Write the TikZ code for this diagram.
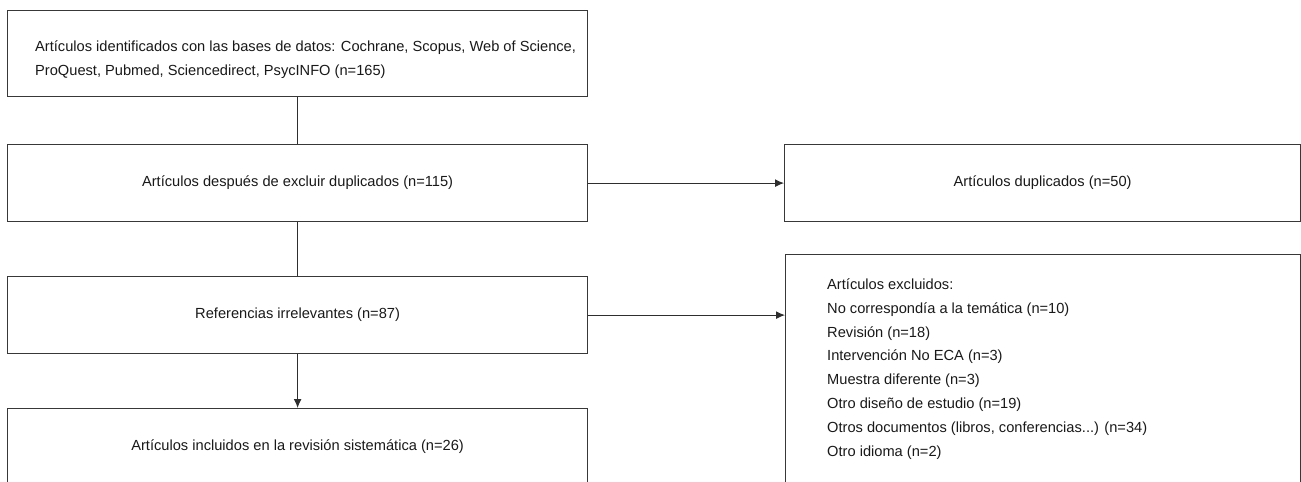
\documentclass[tikz,border=0pt]{standalone}
\usepackage{fontspec}
\setmainfont{Liberation Sans}
\usetikzlibrary{arrows.meta}
\begin{document}
\begin{tikzpicture}[x=1bp, y=-1bp,
  caja/.style={draw=black!78, line width=1.2bp, anchor=north west, inner sep=0pt,
    minimum width=580bp, minimum height=77bp},
  texto/.style={font=\fontsize{14.7}{24}\selectfont, text=black!90},
  flecha/.style={-{Latex[length=9bp, width=8bp]}, draw=black!82, line width=1.1bp}]
  % marco
  \useasboundingbox (0,0) rectangle (1301,482);
  \clip (0,0) rectangle (1301,482);
  % cajas
  \node [caja, minimum height=86bp] (ident) at (7,10) {};
  \node [caja, texto] (unicos) at (7,144) {Artículos después de excluir duplicados (n=115)};
  \node [caja, texto, minimum width=516bp] (dupl) at (784,144) {Artículos duplicados (n=50)};
  \node [caja, texto] (irrel) at (7,276) {Referencias irrelevantes (n=87)};
  \node [caja, minimum width=515bp, minimum height=229bp] (excl) at (785,254) {};
  \node [caja, texto] (incl) at (7,408) {Artículos incluidos en la revisión sistemática (n=26)};
  % textos alineados a la izquierda
  \node [texto, anchor=west, align=left, inner sep=0pt] (identtxt) at (35,60)
    {Artículos identificados con las bases de datos: Cochrane, Scopus, Web of Science,\\
     ProQuest, Pubmed, Sciencedirect, PsycINFO (n=165)};
  \node [texto, anchor=west, align=left, inner sep=0pt] (excltxt) at (827,369)
    {Artículos excluidos:\\
     No correspondía a la temática (n=10)\\
     Revisión (n=18)\\
     Intervención No ECA (n=3)\\
     Muestra diferente (n=3)\\
     Otro diseño de estudio (n=19)\\
     Otros documentos (libros, conferencias...) (n=34)\\
     Otro idioma (n=2)};
  % conectores
  \draw [draw=black!82, line width=1.1bp] (ident.south) -- (unicos.north);
  \draw [flecha] (unicos.east) -- (dupl.west);
  \draw [draw=black!82, line width=1.1bp] (unicos.south) -- (irrel.north);
  \draw [flecha] (irrel.east) -- (irrel.east -| excl.west);
  \draw [flecha] (irrel.south) -- (incl.north);
\end{tikzpicture}
\end{document}
